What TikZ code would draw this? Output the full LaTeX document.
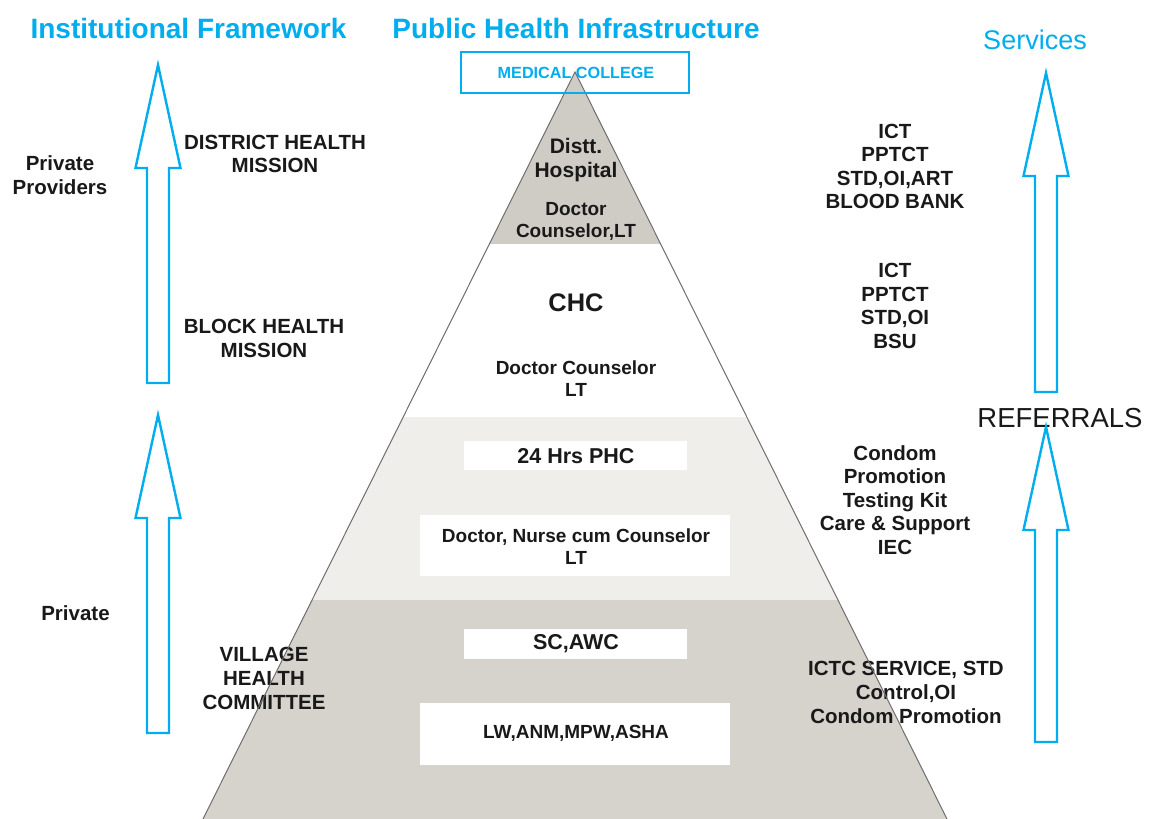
\documentclass[tikz,border=0pt]{standalone}
\usepackage{fontspec}
\setmainfont{Liberation Sans}
\definecolor{sky}{RGB}{0,174,239}
\definecolor{tiertop}{RGB}{207,204,197}
\definecolor{tierlight}{RGB}{239,238,234}
\definecolor{tierlow}{RGB}{214,211,205}
\definecolor{edgegray}{RGB}{110,110,110}
\definecolor{ink}{RGB}{25,25,25}
\newcommand\fsz[2]{\fontsize{#1}{#2}\selectfont}
% hollow up-arrow: x centre, tip y, bottom y
\newcommand\hollowUp[3]{%
  \draw[uparrowline] (#1,#2) -- ++(22.5,103) -- ++(-11.5,0) -- (#1+11,#3)
    -- (#1-11,#3) -- (#1-11,#2+103) -- ++(-11.5,0) -- cycle;}
\begin{document}
\begin{tikzpicture}[x=1pt,y=-1pt,
  title/.style={font=\bfseries\fsz{28}{32}, text=sky, inner sep=0pt},
  side/.style={font=\bfseries\fsz{20.5}{23.6}, text=ink, align=center, inner sep=0pt},
  inner/.style={font=\bfseries\fsz{19}{22}, text=ink, align=center, inner sep=0pt},
  slot/.style={fill=white, draw=none},
  uparrowline/.style={draw=sky, line width=2.4pt, fill=white, line join=miter},
  edge/.style={draw=edgegray, line width=1pt}]
\useasboundingbox (0,0) rectangle (1151,819);
\fill[white] (0,0) rectangle (1151,819);

% pyramid tiers
\coordinate (apex) at (575,72);
\coordinate (baseL) at (203,819);
\coordinate (baseR) at (947,819);
\begin{scope}
  \clip (apex) -- (baseR) -- (baseL) -- cycle;
  \fill[tiertop] (0,0) rectangle (1151,244);
  \fill[white] (0,244) rectangle (1151,417);
  \fill[tierlight] (0,417) rectangle (1151,600);
  \fill[tierlow] (0,600) rectangle (1151,819);
\end{scope}

% white slots in the lower tiers
\fill[slot] (464,441) rectangle (687,470);
\fill[slot] (420,515) rectangle (730,576);
\fill[slot] (464,629) rectangle (687,659);
\fill[slot] (420,703) rectangle (730,765);

% headings
\node[title] (hInst) at (188.5,28) {Institutional Framework};
\node[title] (hPub) at (576,28) {Public Health Infrastructure};
\node[font=\fsz{27}{31}, text=sky, inner sep=0pt] (hServ) at (1035,40) {Services};
\node[font=\fsz{27.5}{31}, text=ink, inner sep=0pt] (ref) at (1060,418) {REFERRALS};

% arrows
\hollowUp{158}{65}{383}
\hollowUp{158}{415}{733}
\hollowUp{1046}{73}{392}
\hollowUp{1046}{427}{742}

% pyramid labels
\node[inner, font=\bfseries\fsz{21}{24}] (dh) at (576,160) {Distt.\\Hospital};
\node[inner] (dhstaff) at (576,221) {Doctor\\Counselor,LT};
\node[inner, font=\bfseries\fsz{25.4}{28}] (chc) at (576,303) {CHC};
\node[inner] (chcstaff) at (576,379) {Doctor Counselor\\LT};
\node[inner, font=\bfseries\fsz{21.5}{24}] (phc) at (576,456) {24 Hrs PHC};
\node[inner] (phcstaff) at (576,546.5) {Doctor, Nurse cum Counselor\\LT};
\node[inner, font=\bfseries\fsz{21.5}{24}] (sc) at (576,643.5) {SC,AWC};
\node[inner] (scstaff) at (576,733.5) {LW,ANM,MPW,ASHA};

% institutional side
\node[side] (pp) at (60,175) {Private\\Providers};
\node[side] (dhm) at (275,154) {DISTRICT HEALTH\\MISSION};
\node[side] (bhm) at (264,338.5) {BLOCK HEALTH\\MISSION};
\node[side] (pv) at (75.5,613) {Private};
\node[side] (vhc) at (264,678.5) {VILLAGE\\HEALTH\\COMMITTEE};

% services side
\node[side] (s1) at (895,166.5) {ICT\\PPTCT\\STD,OI,ART\\BLOOD BANK};
\node[side] (s2) at (895,306) {ICT\\PPTCT\\STD,OI\\BSU};
\node[side] (s3) at (895,500) {Condom\\Promotion\\Testing Kit\\Care \& Support\\IEC};
\node[side] (s4) at (906,692.5) {ICTC SERVICE, STD\\Control,OI\\Condom Promotion};

% pyramid outline over the labels it crosses
\draw[edge] (baseL) -- (apex) -- (baseR);

% medical college frame
\draw[sky, line width=2pt] (461,52) rectangle (689,93);
\node[font=\bfseries\fsz{16.2}{19}, text=sky, inner sep=0pt] (mc) at (576,72.5) {MEDICAL COLLEGE};
\end{tikzpicture}
\end{document}
